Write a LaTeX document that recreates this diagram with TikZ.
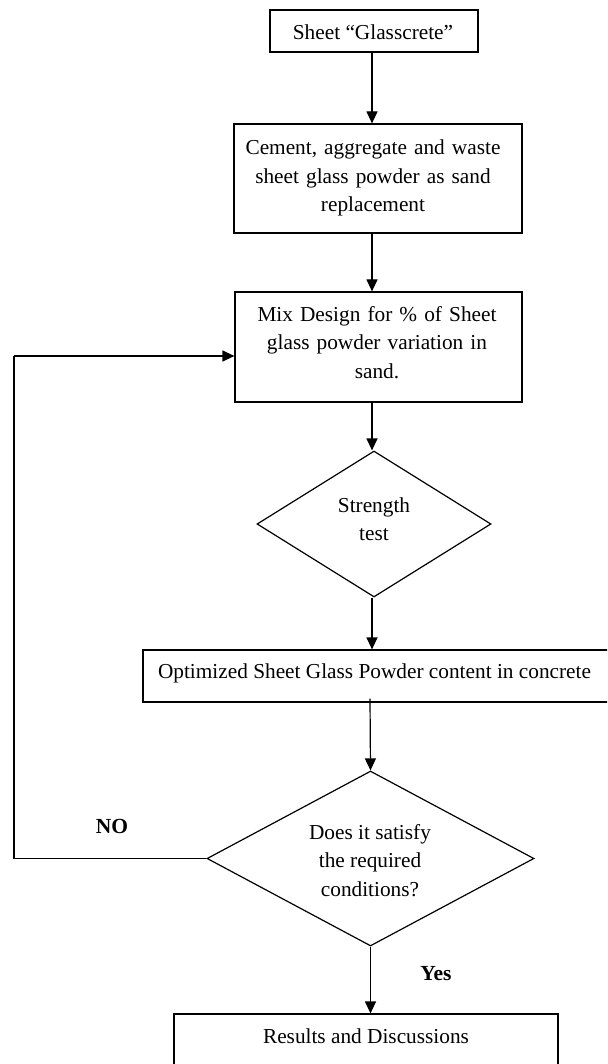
\documentclass[tikz,border=0pt]{standalone}
\usepackage{fontspec}
\setmainfont{Liberation Serif}
\usetikzlibrary{shapes.geometric,arrows.meta}
\tikzset{
  boxnode/.style={draw=black, line width=1.2pt, rectangle, inner sep=0pt, align=center},
  dianode/.style={draw=black, line width=1.2pt, diamond, inner sep=0pt, shape aspect=1},
  txt/.style={align=center, inner sep=0pt, font=\fontsize{21.3}{28.5}\selectfont},
  flow/.style={draw=black, line width=1.2pt, -{Triangle[length=12pt,width=11pt]}},
  plain/.style={draw=black, line width=1.2pt},
  lbl/.style={inner sep=0pt, font=\fontsize{21.5}{24}\selectfont\bfseries}
}
\begin{document}
\begin{tikzpicture}[x=1pt,y=-1pt]
\useasboundingbox (0,0) rectangle (607,1064);
\clip (0,0) rectangle (607,1064);
\fill[white] (0,0) rectangle (607,1064);

% boxes
\node[boxnode, minimum width=208pt, minimum height=42pt] (b1) at (374,31) {};
\node[txt] at (373,32) {Sheet “Glasscrete”};

\node[boxnode, minimum width=288pt, minimum height=109pt] (b2) at (378,178.5) {};
\node[txt, text width=284pt] at (373,178) {Cement, aggregate and waste\\sheet glass powder as sand\\replacement};

\node[boxnode, minimum width=287pt, minimum height=110pt] (b3) at (378.5,347) {};
\node[txt, text width=284pt] at (377,342.5) {Mix Design for \% of Sheet\\glass powder variation in\\sand.};

\node[dianode, minimum width=234pt, minimum height=146pt] (d1) at (374,524) {};
\node[txt] at (374,519) {Strength\\test};

\node[boxnode, minimum width=466pt, minimum height=52pt] (b4) at (376,676) {};
\node[txt] at (374.5,673) {Optimized Sheet Glass Powder content in concrete};

\node[dianode, minimum width=327pt, minimum height=175pt] (d2) at (370.5,858.5) {};
\node[txt] at (370,860.5) {Does it satisfy\\the required\\conditions?};

\node[boxnode, minimum width=384pt, minimum height=100pt] (b5) at (366,1064) {};
\node[txt] at (366,1036) {Results and Discussions};

% connectors
\draw[flow] (b1.south -| 372,0) -- (b2.north -| 372,0);
\draw[flow] (b2.south -| 372,0) -- (b3.north -| 372,0);
\draw[flow] (b3.south -| 372,0) -- (d1.north -| 372,0);
\draw[flow] (d1.south -| 372,0) -- (b4.north -| 372,0);
\draw[flow] ([yshift=4pt]b4.south -| 370,0) -- (d2.north);
\draw[flow] (d2.south) -- (b5.north -| d2.south);

\coordinate (lp1) at (14,858.5);
\coordinate (lp2) at (14,356);
\draw[plain] (d2.west) -- (lp1) -- (lp2);
\draw[flow] (lp2) -- (lp2 -| b3.west);

% labels
\node[lbl] (no) at (112,826) {NO};
\node[lbl] (yes) at (436,974) {Yes};
\end{tikzpicture}
\end{document}
